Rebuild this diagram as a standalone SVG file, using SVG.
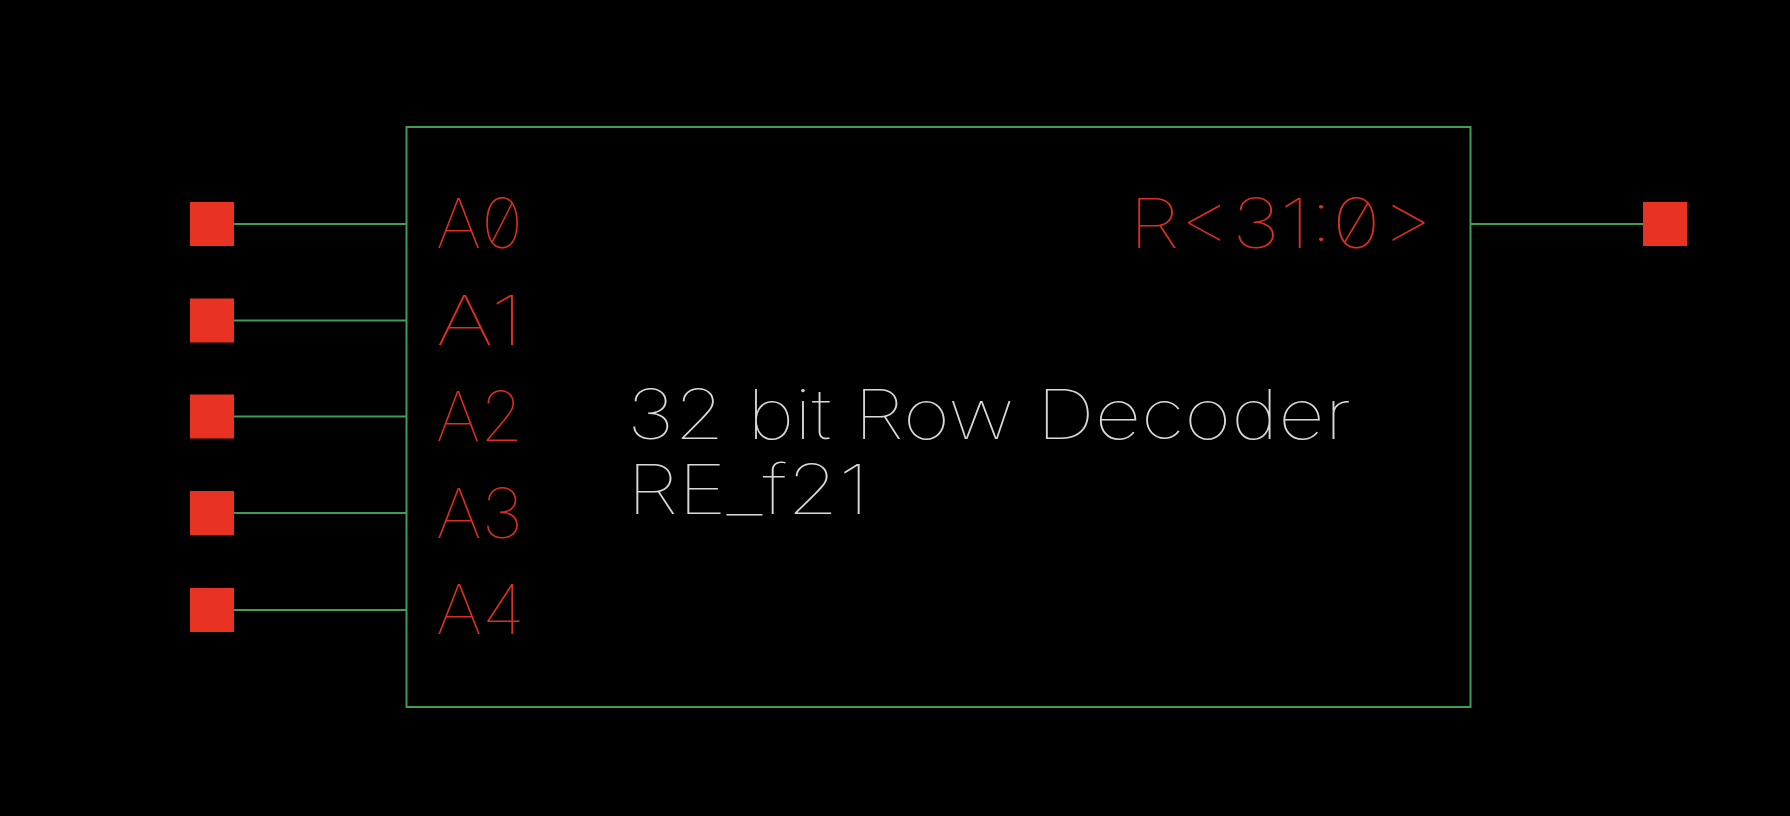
<svg xmlns="http://www.w3.org/2000/svg" width="1790" height="816" viewBox="0 0 1790 816">
<style>
.bg{fill:#000}
.box{fill:none;stroke:#3f9e4f;stroke-width:2}
.wire{stroke:#3f9e4f;stroke-width:2;fill:none}
.pad{fill:#e83323}
.pin{font-family:Inter,"Liberation Sans",sans-serif;font-weight:100;font-size:69px;fill:#dc2f1e;font-feature-settings:"zero" 1}
.lbl{font-family:Inter,"Liberation Sans",sans-serif;font-weight:100;font-size:69px;fill:#d8d8d8}
</style>
<rect class="bg" x="0" y="0" width="1790" height="816"/>
<g id="connectors">
<line class="wire" x1="234" y1="224" x2="406.5" y2="224"/>
<line class="wire" x1="234" y1="320.5" x2="406.5" y2="320.5"/>
<line class="wire" x1="234" y1="416.5" x2="406.5" y2="416.5"/>
<line class="wire" x1="234" y1="513" x2="406.5" y2="513"/>
<line class="wire" x1="234" y1="610" x2="406.5" y2="610"/>
<line class="wire" x1="1470.5" y1="224" x2="1643" y2="224"/>
</g>
<g id="block">
<rect class="box" x="406.5" y="127" width="1064" height="580"/>
<text class="pin" x="436" y="248" textLength="87" lengthAdjust="spacingAndGlyphs">A0</text>
<text class="pin" x="436" y="345" textLength="87" lengthAdjust="spacingAndGlyphs">A1</text>
<text class="pin" x="436" y="441" textLength="87" lengthAdjust="spacingAndGlyphs">A2</text>
<text class="pin" x="436" y="538" textLength="87" lengthAdjust="spacingAndGlyphs">A3</text>
<text class="pin" x="436" y="634" textLength="89" lengthAdjust="spacingAndGlyphs">A4</text>
<text class="pin" x="1129" y="248" textLength="304" lengthAdjust="spacingAndGlyphs">R&lt;31:0&gt;</text>
<text class="lbl" x="627" y="439" textLength="724" lengthAdjust="spacingAndGlyphs">32 bit Row Decoder</text>
<text class="lbl" x="627" y="514" textLength="242" lengthAdjust="spacingAndGlyphs">RE_f21</text>
</g>
<g id="pad-A0"><rect class="pad" x="190" y="202" width="44" height="44"/></g>
<g id="pad-A1"><rect class="pad" x="190" y="298.5" width="44" height="44"/></g>
<g id="pad-A2"><rect class="pad" x="190" y="394.5" width="44" height="44"/></g>
<g id="pad-A3"><rect class="pad" x="190" y="491" width="44" height="44"/></g>
<g id="pad-A4"><rect class="pad" x="190" y="588" width="44" height="44"/></g>
<g id="pad-R"><rect class="pad" x="1643" y="202" width="44" height="44"/></g>
</svg>
